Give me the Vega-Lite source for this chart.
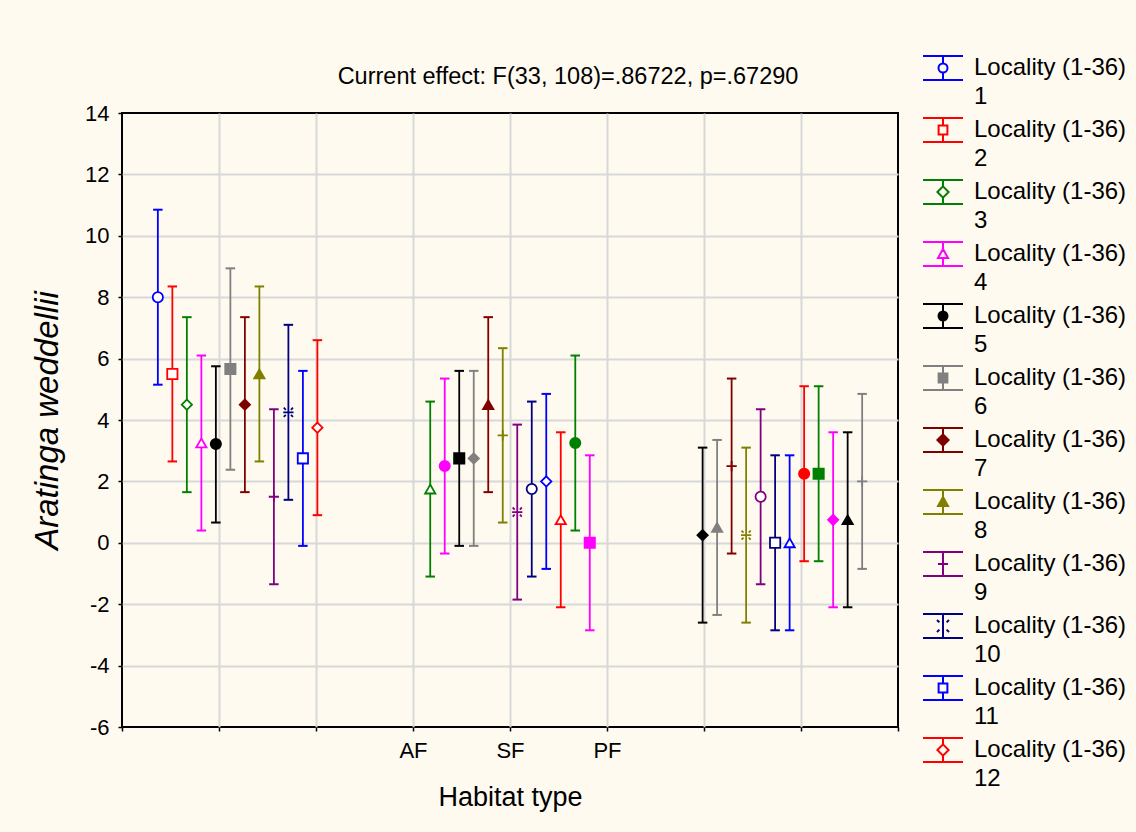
{
  "$schema": "https://vega.github.io/schema/vega-lite/v6.json",
  "width": 776,
  "height": 614,
  "autosize": "none",
  "padding": {"left": 122, "top": 113, "right": 238, "bottom": 105},
  "background": "#FEFAF0",
  "config": {
    "view": {"stroke": "#000000", "strokeWidth": 2, "fill": "#FFFFFF"},
    "font": "Liberation Sans",
    "style": {"guide-label": {"lineHeight": 29}},
    "legend": {"symbolFillColor": "transparent"}
  },
  "title": {
    "text": "Current effect: F(33, 108)=.86722, p=.67290",
    "fontSize": 23.5,
    "fontWeight": "normal",
    "color": "#000000",
    "anchor": "middle",
    "dx": 58,
    "offset": -41
  },
  "data": {
    "values": [
      {"loc": 1, "habitat": "AF", "mean": 8.0, "lo": 5.15, "hi": 10.85},
      {"loc": 2, "habitat": "AF", "mean": 5.5, "lo": 2.65, "hi": 8.35},
      {"loc": 3, "habitat": "AF", "mean": 4.5, "lo": 1.65, "hi": 7.35},
      {"loc": 4, "habitat": "AF", "mean": 3.25, "lo": 0.4, "hi": 6.1},
      {"loc": 5, "habitat": "AF", "mean": 3.22, "lo": 0.66, "hi": 5.75},
      {"loc": 6, "habitat": "AF", "mean": 5.66, "lo": 2.38, "hi": 8.94},
      {"loc": 7, "habitat": "AF", "mean": 4.5, "lo": 1.65, "hi": 7.35},
      {"loc": 8, "habitat": "AF", "mean": 5.5, "lo": 2.65, "hi": 8.35},
      {"loc": 9, "habitat": "AF", "mean": 1.5, "lo": -1.35, "hi": 4.35},
      {"loc": 10, "habitat": "AF", "mean": 4.25, "lo": 1.4, "hi": 7.1},
      {"loc": 11, "habitat": "AF", "mean": 2.75, "lo": -0.1, "hi": 5.6},
      {"loc": 12, "habitat": "AF", "mean": 3.75, "lo": 0.9, "hi": 6.6},
      {"loc": 13, "habitat": "SF", "mean": 1.75, "lo": -1.1, "hi": 4.6},
      {"loc": 14, "habitat": "SF", "mean": 2.5, "lo": -0.35, "hi": 5.35},
      {"loc": 15, "habitat": "SF", "mean": 2.75, "lo": -0.1, "hi": 5.6},
      {"loc": 16, "habitat": "SF", "mean": 2.75, "lo": -0.1, "hi": 5.6},
      {"loc": 17, "habitat": "SF", "mean": 4.5, "lo": 1.65, "hi": 7.35},
      {"loc": 18, "habitat": "SF", "mean": 3.5, "lo": 0.66, "hi": 6.34},
      {"loc": 19, "habitat": "SF", "mean": 1.0, "lo": -1.85, "hi": 3.85},
      {"loc": 20, "habitat": "SF", "mean": 1.75, "lo": -1.1, "hi": 4.6},
      {"loc": 21, "habitat": "SF", "mean": 2.0, "lo": -0.85, "hi": 4.85},
      {"loc": 22, "habitat": "SF", "mean": 0.75, "lo": -2.1, "hi": 3.6},
      {"loc": 23, "habitat": "SF", "mean": 3.25, "lo": 0.4, "hi": 6.1},
      {"loc": 24, "habitat": "SF", "mean": 0.0, "lo": -2.85, "hi": 2.85},
      {"loc": 25, "habitat": "PF", "mean": 0.25, "lo": -2.6, "hi": 3.1},
      {"loc": 26, "habitat": "PF", "mean": 0.5, "lo": -2.35, "hi": 3.35},
      {"loc": 27, "habitat": "PF", "mean": 2.5, "lo": -0.35, "hi": 5.35},
      {"loc": 28, "habitat": "PF", "mean": 0.25, "lo": -2.6, "hi": 3.1},
      {"loc": 29, "habitat": "PF", "mean": 1.5, "lo": -1.35, "hi": 4.35},
      {"loc": 30, "habitat": "PF", "mean": 0.0, "lo": -2.85, "hi": 2.85},
      {"loc": 31, "habitat": "PF", "mean": 0.0, "lo": -2.85, "hi": 2.85},
      {"loc": 32, "habitat": "PF", "mean": 2.25, "lo": -0.6, "hi": 5.1},
      {"loc": 33, "habitat": "PF", "mean": 2.25, "lo": -0.6, "hi": 5.1},
      {"loc": 34, "habitat": "PF", "mean": 0.75, "lo": -2.1, "hi": 3.6},
      {"loc": 35, "habitat": "PF", "mean": 0.75, "lo": -2.1, "hi": 3.6},
      {"loc": 36, "habitat": "PF", "mean": 2.0, "lo": -0.85, "hi": 4.85}
    ]
  },
  "transform": [
    {"window": [{"op": "row_number", "as": "k"}], "groupby": ["habitat"], "sort": [{"field": "loc", "order": "ascending"}]}
  ],
  "layer": [
    {
      "mark": {"type": "rule", "opacity": 0},
      "encoding": {
        "x": {
          "datum": 0,
          "type": "quantitative",
          "scale": {"domain": [0, 8], "nice": false, "zero": false},
          "axis": {
            "orient": "bottom",
            "values": [0, 1, 2, 3, 4, 5, 6, 7, 8],
            "labelExpr": "datum.value == 3 ? 'AF' : datum.value == 4 ? 'SF' : datum.value == 5 ? 'PF' : ''",
            "grid": true,
            "gridColor": "#D8D8D8",
            "gridWidth": 2,
            "gridOpacity": {"condition": {"test": "datum.value == 0 || datum.value == 8", "value": 0}, "value": 1},
            "domain": false,
            "ticks": true,
            "tickColor": "#000000",
            "tickSize": 4,
            "tickWidth": 1.5,
            "labelFontSize": 22,
            "labelColor": "#000000",
            "labelPadding": 9,
            "labelFlush": false,
            "labelOverlap": false,
            "title": "Habitat type",
            "titleFontSize": 27,
            "titleFontWeight": "normal",
            "titleColor": "#000000",
            "titlePadding": 23
          }
        }
      }
    },
    {
      "encoding": {
        "x": {
          "field": "habitat",
          "type": "nominal",
          "scale": {"domain": ["AF", "SF", "PF"], "paddingInner": 0.361, "paddingOuter": 0.105},
          "axis": null
        },
        "xOffset": {
          "field": "k",
          "type": "nominal",
          "scale": {"paddingInner": 0, "paddingOuter": 0}
        },
        "stroke": {
          "field": "loc",
          "type": "nominal",
          "scale": {
            "domain": [1,2,3,4,5,6,7,8,9,10,11,12,13,14,15,16,17,18,19,20,21,22,23,24,25,26,27,28,29,30,31,32,33,34,35,36],
            "range": ["#0000FF", "#FF0000", "#008000", "#FF00FF", "#000000", "#808080", "#800000", "#808000", "#800080", "#000080"]
          },
          "legend": null
        }
      },
      "layer": [
        {
          "mark": {"type": "rule", "strokeWidth": 1.8},
          "encoding": {
            "y": {
              "field": "lo",
              "type": "quantitative",
              "scale": {"domain": [-6, 14], "nice": false, "zero": false},
              "axis": {
                "values": [-6, -4, -2, 0, 2, 4, 6, 8, 10, 12, 14],
                "labelExpr": "'' + datum.value",
                "grid": true,
                "gridColor": "#D8D8D8",
                "gridWidth": 2,
                "gridOpacity": {"condition": {"test": "datum.value == -6 || datum.value == 14", "value": 0}, "value": 1},
                "domain": false,
                "tickColor": "#000000",
                "tickSize": 4,
                "tickWidth": 1.5,
                "labelFontSize": 22,
                "labelColor": "#000000",
                "labelPadding": 9,
                "labelFlush": false,
                "labelOverlap": false,
                "title": "Aratinga weddellii",
                "titleFontSize": 33,
                "titleFontStyle": "italic",
                "titleFontWeight": "normal",
                "titleColor": "#000000",
                "titlePadding": 20
              }
            },
            "y2": {"field": "hi"}
          }
        },
        {
          "mark": {"type": "point", "shape": "M-1,0H1", "size": 90, "strokeWidth": 2, "opacity": 1, "filled": false},
          "encoding": {"y": {"field": "lo", "type": "quantitative"}}
        },
        {
          "mark": {"type": "point", "shape": "M-1,0H1", "size": 90, "strokeWidth": 2, "opacity": 1, "filled": false},
          "encoding": {"y": {"field": "hi", "type": "quantitative"}}
        },
        {
          "mark": {"type": "point", "size": 105, "strokeWidth": 1.8, "opacity": 1},
          "encoding": {
            "y": {"field": "mean", "type": "quantitative"},
            "shape": {
              "field": "loc",
              "type": "nominal",
              "scale": {
                "domain": [1,2,3,4,5,6,7,8,9,10,11,12,13,14,15,16,17,18,19,20,21,22,23,24,25,26,27,28,29,30,31,32,33,34,35,36],
                "range": [
                  "circle", "square", "diamond", "triangle-up", "circle", "square", "diamond", "triangle-up",
                  "M-1,0H1M0,-1V1",
                  "M-1,0H1M-0.9,-0.9L-0.5,-0.5M0.5,-0.5L0.9,-0.9M-0.9,0.9L-0.5,0.5M0.5,0.5L0.9,0.9",
                  "square", "diamond", "triangle-up", "circle", "square", "diamond", "triangle-up",
                  "M-1,0H1M0,-1V1",
                  "M-1,0H1M-0.9,-0.9L-0.5,-0.5M0.5,-0.5L0.9,-0.9M-0.9,0.9L-0.5,0.5M0.5,0.5L0.9,0.9",
                  "circle", "diamond", "triangle-up", "circle", "square", "diamond", "triangle-up",
                  "M-1,0H1M0,-1V1",
                  "M-1,0H1M-0.9,-0.9L-0.5,-0.5M0.5,-0.5L0.9,-0.9M-0.9,0.9L-0.5,0.5M0.5,0.5L0.9,0.9",
                  "circle", "square", "triangle-up", "circle", "square", "diamond", "triangle-up",
                  "M-1,0H1M0,-1V1"
                ]
              },
              "legend": null
            },
            "fill": {
              "field": "loc",
              "type": "nominal",
              "scale": {
                "domain": [1,2,3,4,5,6,7,8,9,10,11,12,13,14,15,16,17,18,19,20,21,22,23,24,25,26,27,28,29,30,31,32,33,34,35,36],
                "range": [
                  "#FFFFFF", "#FFFFFF", "#FFFFFF", "#FFFFFF", "#000000", "#808080", "#800000", "#808000", "transparent", "transparent",
                  "#FFFFFF", "#FFFFFF", "#FFFFFF", "#FF00FF", "#000000", "#808080", "#800000", "transparent", "transparent", "#FFFFFF",
                  "#FFFFFF", "#FFFFFF", "#008000", "#FF00FF", "#000000", "#808080", "transparent", "transparent", "#FFFFFF", "#FFFFFF",
                  "#FFFFFF", "#FF0000", "#008000", "#FF00FF", "#000000", "transparent"
                ]
              },
              "legend": null
            }
          }
        }
      ]
    },
    {
      "transform": [{"filter": "datum.loc <= 12"}],
      "mark": {"type": "point", "opacity": 0},
      "encoding": {
        "stroke": {
          "field": "loc",
          "type": "nominal",
          "scale": {
            "domain": [1,2,3,4,5,6,7,8,9,10,11,12],
            "range": ["#0000FF", "#FF0000", "#008000", "#FF00FF", "#000000", "#808080", "#800000", "#808000", "#800080", "#000080", "#0000FF", "#FF0000"]
          },
          "legend": {
            "title": null,
            "orient": "none",
            "legendX": 800,
            "legendY": -66,
            "padding": 0,
            "symbolSize": 1600,
            "symbolStrokeWidth": 2,
            "symbolOpacity": 1,
            "labelFontSize": 24,
            "labelColor": "#000000",
            "labelOffset": 10,
            "labelLimit": 400,
            "labelExpr": "['Locality (1-36)', datum.label]",
            "rowPadding": 0
          }
        },
        "fill": {
          "field": "loc",
          "type": "nominal",
          "scale": {
            "domain": [1,2,3,4,5,6,7,8,9,10,11,12],
            "range": ["transparent", "transparent", "transparent", "transparent", "#000000", "#808080", "#800000", "#808000", "transparent", "transparent", "transparent", "transparent"]
          }
        },
        "shape": {
          "field": "loc",
          "type": "nominal",
          "scale": {
            "domain": [1,2,3,4,5,6,7,8,9,10,11,12],
            "range": [
              "M-1,-0.6H1M-1,0.6H1M0,-0.6V-0.225M0,0.225V0.6M0.225,0A0.225,0.225,0,1,1,-0.225,0A0.225,0.225,0,1,1,0.225,0Z",
              "M-1,-0.6H1M-1,0.6H1M0,-0.6V-0.22M0,0.22V0.6M-0.22,-0.22H0.22V0.22H-0.22Z",
              "M-1,-0.6H1M-1,0.6H1M0,-0.6V-0.28M0,0.28V0.6M0,-0.28L0.28,0L0,0.28L-0.28,0Z",
              "M-1,-0.6H1M-1,0.6H1M0,-0.6V-0.25M0,0.2V0.6M0,-0.25L0.25,0.2L-0.25,0.2Z",
              "M-1,-0.6H1M-1,0.6H1M0,-0.6V0.6M0.225,0A0.225,0.225,0,1,1,-0.225,0A0.225,0.225,0,1,1,0.225,0Z",
              "M-1,-0.6H1M-1,0.6H1M0,-0.6V0.6M-0.22,-0.22H0.22V0.22H-0.22Z",
              "M-1,-0.6H1M-1,0.6H1M0,-0.6V0.6M0,-0.28L0.28,0L0,0.28L-0.28,0Z",
              "M-1,-0.6H1M-1,0.6H1M0,-0.6V0.6M0,-0.25L0.25,0.2L-0.25,0.2Z",
              "M-1,-0.6H1M-1,0.6H1M0,-0.6V0.6M-0.25,0H0.25",
              "M-1,-0.6H1M-1,0.6H1M0,-0.6V0.6M-0.3,-0.3L-0.18,-0.18M0.18,-0.18L0.3,-0.3M-0.3,0.3L-0.18,0.18M0.18,0.18L0.3,0.3",
              "M-1,-0.6H1M-1,0.6H1M0,-0.6V-0.22M0,0.22V0.6M-0.22,-0.22H0.22V0.22H-0.22Z",
              "M-1,-0.6H1M-1,0.6H1M0,-0.6V-0.28M0,0.28V0.6M0,-0.28L0.28,0L0,0.28L-0.28,0Z"
            ]
          }
        }
      }
    }
  ],
  "resolve": {
    "scale": {"x": "independent", "shape": "independent", "fill": "independent", "stroke": "independent"}
  }
}
